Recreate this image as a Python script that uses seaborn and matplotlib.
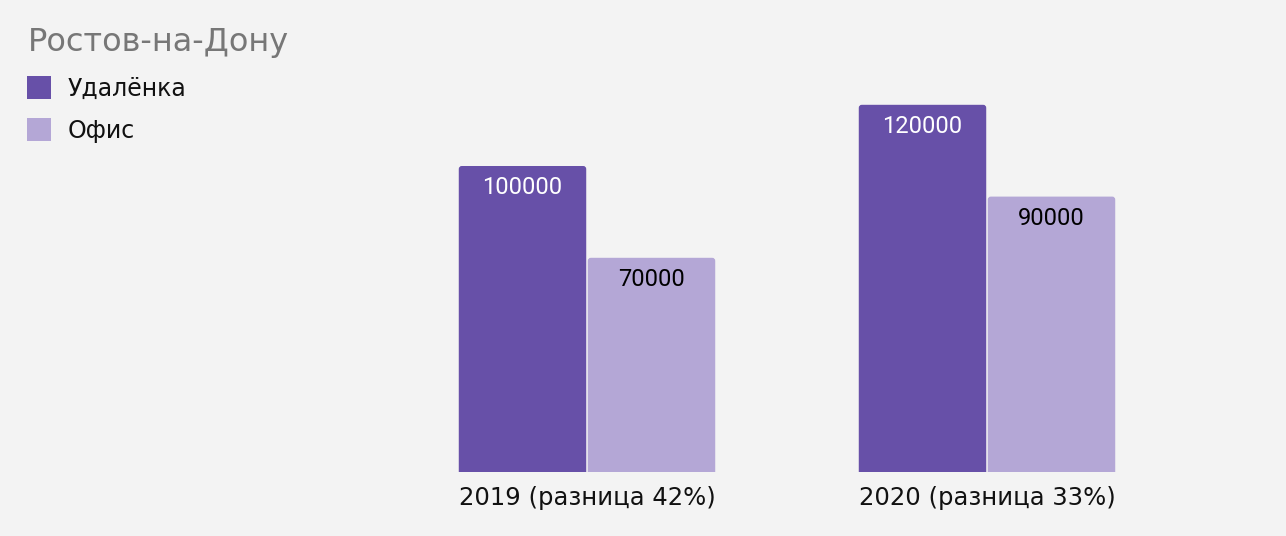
import matplotlib
matplotlib.use("Agg")
import matplotlib.pyplot as plt
from matplotlib.patches import FancyBboxPatch
import seaborn as sns
import pandas as pd

years = ["2019 (разница 42%)", "2020 (разница 33%)"]
series = ["Удалёнка", "Офис"]
remote = [100000, 120000]
office = [70000, 90000]
colors = ["#6750a8", "#b4a7d6"]
title = "Ростов-на-Дону"

df = pd.DataFrame({
    "year": years * 2,
    "type": [series[0]] * 2 + [series[1]] * 2,
    "value": remote + office,
})

sns.set_theme(style="white")
plt.rcParams["font.family"] = ["DejaVu Sans"]

W, H = 1286, 536
fig = plt.figure(figsize=(W / 100, H / 100), dpi=100, facecolor="#f3f3f3")
ax = fig.add_axes([0, 64 / H, 1, 472 / H])
ax.set_facecolor("#f3f3f3")

sns.barplot(data=df, x="year", y="value", hue="type", palette=colors,
            width=0.645, gap=0.012, ax=ax, saturation=1, linewidth=0)

ymax = 472 / 3.06 * 1000
ax.set_ylim(0, ymax)
ax.set_xlim(-587 / 400, (W - 587) / 400)

# rounded top corners
px_x = 1 / 400
px_y = ymax / 472
r = 3 * px_x
bars = list(ax.patches)
for p in bars:
    x, w, h = p.get_x(), p.get_width(), p.get_height()
    if h <= 0:
        continue
    fc = p.get_facecolor()
    p.set_visible(False)
    fb = FancyBboxPatch((x, -5 * px_y), w, h + 5 * px_y,
                        boxstyle=f"round,pad=0,rounding_size={r}",
                        mutation_aspect=px_y / px_x, facecolor=fc,
                        edgecolor="none", clip_on=True)
    ax.add_patch(fb)
    txtcol = "white" if fc[0] < 0.5 else "black"
    ax.text(x + w / 2, h - 22 * px_y, f"{int(round(h))}", ha="center", va="center",
            fontsize=17, color=txtcol, family=["Roboto", "DejaVu Sans"])

for s in ax.spines.values():
    s.set_visible(False)
ax.set_xlabel("")
ax.set_ylabel("")
ax.set_yticks([])
ax.tick_params(axis="x", length=0, pad=10, labelsize=17.5, labelcolor="#111111")

sns.move_legend(ax, loc="upper left", bbox_to_anchor=(18 / W, 1 - 18 / H),
                bbox_transform=fig.transFigure, frameon=False, title=title,
                fontsize=17, title_fontsize=23, handlelength=1.0,
                handleheight=1.1, handletextpad=0.7, labelspacing=0.75,
                alignment="left", borderaxespad=0)
leg = ax.get_legend()
leg.get_title().set_color("#777777")
for t in leg.get_texts():
    t.set_color("#111111")

fig.savefig("out.png", dpi=100, facecolor=fig.get_facecolor())
